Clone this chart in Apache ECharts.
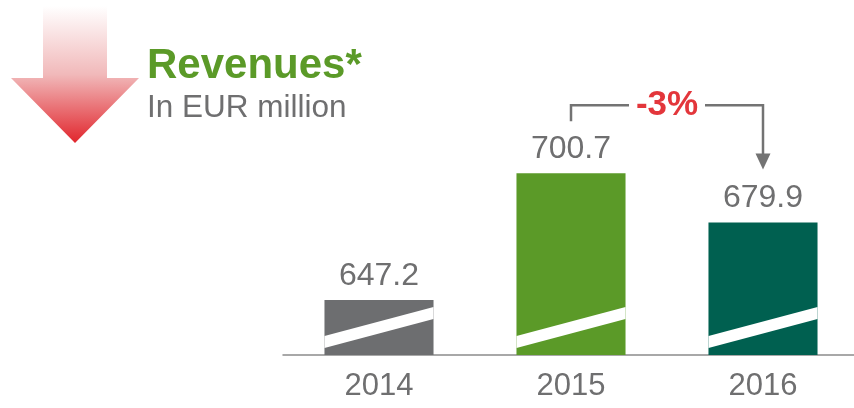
<!DOCTYPE html>
<html>
<head>
<meta charset="utf-8">
<script src="https://cdn.jsdelivr.net/npm/echarts@6/dist/echarts.min.js"></script>
<style>html,body{margin:0;padding:0;background:#fff;overflow:hidden}#c{width:860px;height:408px}</style>
</head>
<body>
<div id="c"></div>
<script>
const categories = ['2014', '2015', '2016'];
const revenues = [647.2, 700.7, 679.9];
const barColors = ['#6d6e70', '#5b9a28', '#006050'];
const titleText = 'Revenues*';
const subtitleText = 'In EUR million';
const Y_MIN = 624;   // truncated (broken) axis start
const Y_MAX = 724;

const FONT = '"Liberation Sans", Arial, sans-serif';
const GREY = '#6f6f70';

const chart = echarts.init(document.getElementById('c'), null, {renderer: 'canvas'});

chart.setOption({
  animation: false,
  backgroundColor: '#ffffff',
  grid: {left: 283, top: 118, right: 1, bottom: 53, containLabel: false},
  xAxis: {
    type: 'category',
    data: categories,
    axisLine: {show: true, lineStyle: {color: '#8c8c8c', width: 1.5}},
    axisTick: {show: false},
    axisLabel: {color: GREY, fontSize: 31, fontFamily: FONT, margin: 16}
  },
  yAxis: {
    type: 'value', min: Y_MIN, max: Y_MAX, show: false,
    splitLine: {show: false}
  },
  series: [{
    type: 'custom',
    clip: false,
    data: revenues.map((v, i) => [i, v]),
    renderItem: function (params, api) {
      const idx = params.dataIndex;
      const x = api.value(0), v = api.value(1);
      const top = api.coord([x, v]);
      const base = api.coord([x, Y_MIN]);
      const w = api.size([1, 0])[0] * 0.568;
      const xL = top[0] - w / 2, xR = top[0] + w / 2, yB = base[1];
      return {
        type: 'group',
        children: [
          {type: 'rect', shape: {x: xL, y: top[1], width: w, height: yB - top[1]},
           style: {fill: barColors[idx]}},
          {type: 'polygon', shape: {points: [[xL, yB - 7], [xR, yB - 36], [xR, yB - 48], [xL, yB - 19]]},
           style: {fill: '#ffffff'}},
          {type: 'text', style: {text: v.toFixed(1), x: top[0], y: top[1] - 24,
            align: 'center', verticalAlign: 'middle', fontSize: 32, fontFamily: FONT, fill: GREY}}
        ]
      };
    }
  }]
});

// Change bracket between 2015 and 2016, positioned from the axes
const pA = chart.convertToPixel({seriesIndex: 0}, [1, revenues[1]]);
const pB = chart.convertToPixel({seriesIndex: 0}, [2, revenues[2]]);
const pct = Math.round((revenues[2] / revenues[1] - 1) * 100);
const yTop = pA[1] - 68;
const midX = (pA[0] + pB[0]) / 2;
const lineStyle = {stroke: '#737373', lineWidth: 2.5, fill: null};
const arrowTip = pB[1] - 53;

chart.setOption({
  graphic: [
    {
      type: 'polygon',
      shape: {points: [[43, 6], [107, 6], [107, 78], [139, 78], [75, 143], [11, 78], [43, 78]]},
      style: {
        fill: new echarts.graphic.LinearGradient(0, 0, 0, 1, [
          {offset: 0, color: '#ffffff'},
          {offset: 0.5, color: '#f1b9ba'},
          {offset: 1, color: '#e1262d'}
        ])
      }
    },
    {type: 'text', x: 147, y: 66, style: {text: titleText, fontSize: 42, fontWeight: 'bold',
      fontFamily: FONT, fill: '#5b9a28', verticalAlign: 'middle', align: 'left'}},
    {type: 'text', x: 147, y: 108, style: {text: subtitleText, fontSize: 31.5,
      fontFamily: FONT, fill: GREY, verticalAlign: 'middle', align: 'left'}},
    {type: 'polyline', shape: {points: [[pA[0], pA[1] - 52], [pA[0], yTop], [midX - 38, yTop]]}, style: lineStyle},
    {type: 'polyline', shape: {points: [[midX + 38, yTop], [pB[0], yTop], [pB[0], arrowTip - 14]]}, style: lineStyle},
    {type: 'polygon', shape: {points: [[pB[0] - 7.5, arrowTip - 16], [pB[0] + 7.5, arrowTip - 16], [pB[0], arrowTip]]},
     style: {fill: '#737373'}},
    {type: 'text', x: midX, y: yTop, style: {text: (pct > 0 ? '+' : '') + pct + '%', fontSize: 35,
      fontWeight: 'bold', fontFamily: FONT, fill: '#e3363b', align: 'center', verticalAlign: 'middle'}}
  ]
});
</script>
</body>
</html>
